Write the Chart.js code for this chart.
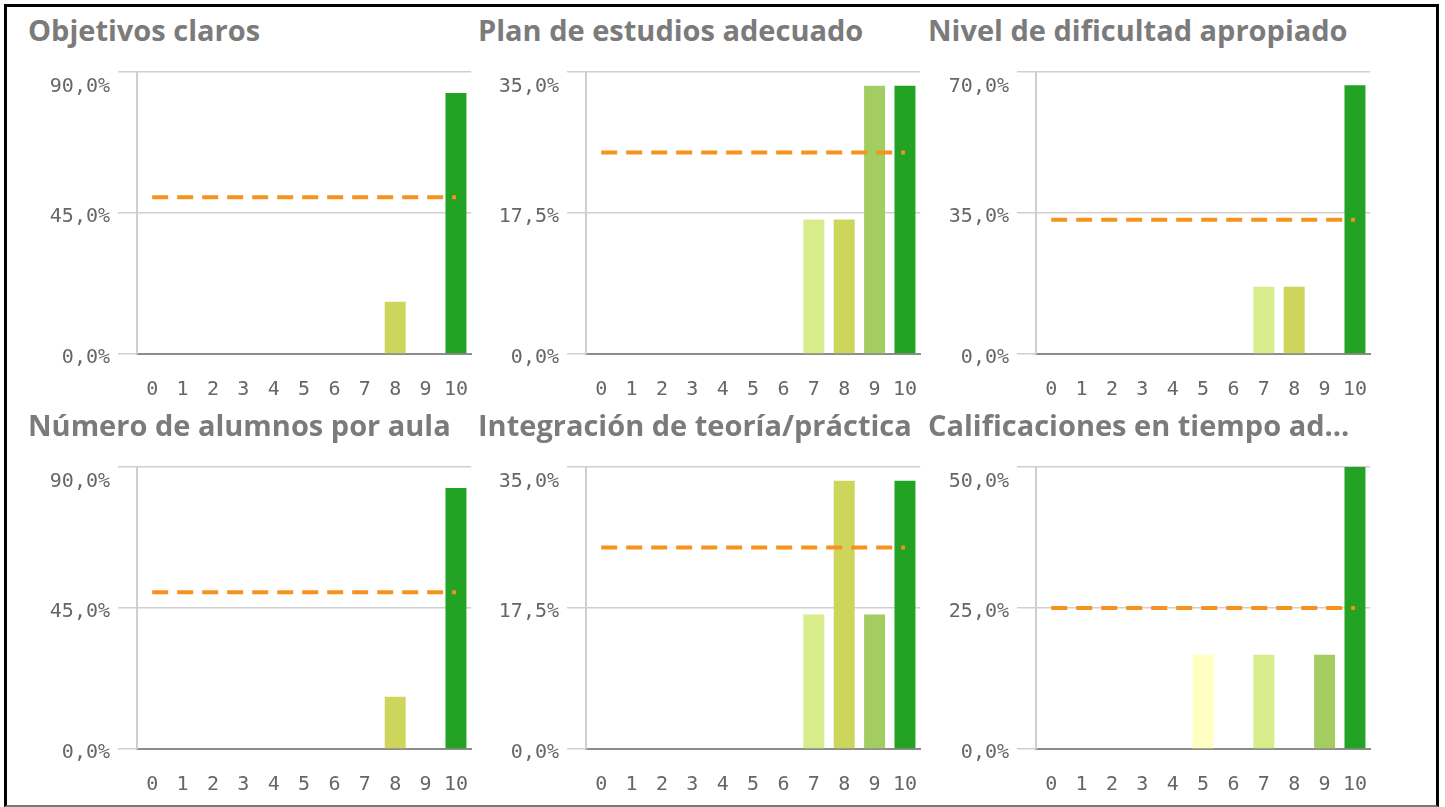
<!DOCTYPE html>
<html><head><meta charset="utf-8">
<script src="https://cdn.jsdelivr.net/npm/chart.js@4.4.1/dist/chart.umd.min.js"></script>
<style>
html,body{margin:0;padding:0;background:#fff}
body{width:1445px;height:807px;overflow:hidden;position:relative}
.frame{position:absolute;left:4px;top:4px;width:1429px;height:798px;border:3px solid #000;border-bottom:2px solid #777;box-sizing:content-box}
.title{position:absolute;font-family:"Open Sans";font-weight:700;font-size:29px;line-height:29px;color:#7b7b7b;white-space:nowrap}
.cv{position:absolute}
</style></head><body>
<div class="frame"></div>
<script>
const categories = ['0','1','2','3','4','5','6','7','8','9','10'];
const titles = ['Objetivos claros','Plan de estudios adecuado','Nivel de dificultad apropiado','Número de alumnos por aula','Integración de teoría/práctica','Calificaciones en tiempo ad...'];
const objetivos      = [0,0,0,0,0,0,0,0,16.7,0,83.3];
const plan           = [0,0,0,0,0,0,0,16.7,16.7,33.3,33.3];
const nivel          = [0,0,0,0,0,0,0,16.7,16.7,0,66.7];
const numero         = [0,0,0,0,0,0,0,0,16.7,0,83.3];
const integracion    = [0,0,0,0,0,0,0,16.7,33.3,16.7,33.3];
const calificaciones = [0,0,0,0,0,16.7,0,16.7,0,16.7,50];
const averages = [50,25,33.3,50,25,25];
const yMax = [90,35,70,90,35,50];
const scoreColors = ['#f2f7c8','#f2f7c8','#f2f7c8','#f2f7c8','#f8fbc4','#FFFFC4','#EEF5A8','#D9EC8C','#CDD65B','#A3CD60','#22A324'];

const seriesList = [objetivos, plan, nivel, numero, integracion, calificaciones];
const colLeft = [0,449,899];
const titleLeft = [28,478,928];

const fmt = v => v.toFixed(1).replace('.',',') + '%';

const yLabelPlugin = {
  id: 'yLabels',
  afterDraw(chart){
    const ctx = chart.ctx, ys = chart.scales.y, left = chart.chartArea.left;
    ctx.save();
    ctx.font = '20px "DejaVu Sans Mono"';
    ctx.fillStyle = '#666';
    ctx.textAlign = 'right';
    ctx.textBaseline = 'middle';
    ys.ticks.forEach(t => {
      const y = ys.getPixelForValue(t.value);
      const off = (t.value === ys.max) ? 15 : 4;
      ctx.fillText(fmt(t.value), left - 27, y + off);
    });
    ctx.restore();
  }
};

seriesList.forEach((data, i) => {
  const c = i % 3, r = Math.floor(i / 3);
  const t = document.createElement('div');
  t.className = 'title';
  t.textContent = titles[i];
  t.style.left = titleLeft[c] + 'px';
  t.style.top = (15 + 395 * r) + 'px';
  document.body.appendChild(t);

  const wrap = document.createElement('div');
  wrap.className = 'cv';
  wrap.style.left = colLeft[c] + 'px';
  wrap.style.top = (50 + 395 * r) + 'px';
  wrap.style.width = '484px';
  wrap.style.height = '360px';
  const cv = document.createElement('canvas');
  wrap.appendChild(cv);
  document.body.appendChild(wrap);

  new Chart(cv, {
    type: 'bar',
    data: {
      labels: categories,
      datasets: [
        {
          type: 'line',
          data: categories.map(() => averages[i]),
          borderColor: '#F5931E',
          borderWidth: 4,
          borderDash: [16, 9],
          pointRadius: 0,
          fill: false,
          order: 0
        },
        {
          type: 'bar',
          data: data,
          backgroundColor: scoreColors,
          barPercentage: 0.69,
          categoryPercentage: 1,
          borderWidth: 0,
          order: 1
        }
      ]
    },
    plugins: [yLabelPlugin],
    options: {
      responsive: true,
      maintainAspectRatio: false,
      animation: false,
      events: [],
      layout: { padding: { top: 22, right: 0, left: 0, bottom: 0 } },
      plugins: { legend: { display: false }, tooltip: { enabled: false } },
      scales: {
        x: {
          grid: { display: false },
          border: { display: true, color: '#8c8c8c', width: 2 },
          ticks: { font: { family: 'DejaVu Sans Mono', size: 20 }, color: '#666', padding: 16, maxRotation: 0, autoSkip: false },
          afterFit(s){ s.height = 56; }
        },
        y: {
          min: 0, max: yMax[i],
          ticks: { stepSize: yMax[i] / 2, color: 'rgba(0,0,0,0)', font: { size: 20 }, callback: v => fmt(v) },
          grid: { color: '#cfcfcf', lineWidth: 1.5, tickLength: 19, drawTicks: true },
          border: { display: true, color: '#cfcfcf', width: 2 },
          afterFit(s){ s.width = 137; }
        }
      }
    }
  });
});
</script>
</body></html>
